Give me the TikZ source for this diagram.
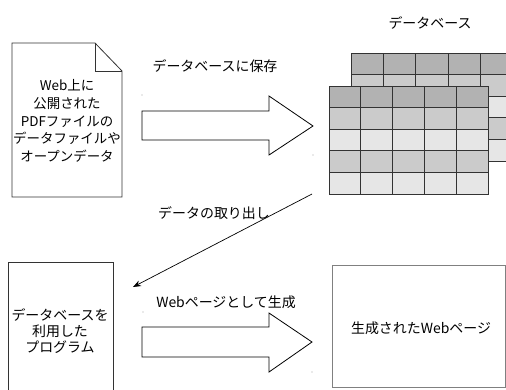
\documentclass[tikz,border=0pt]{standalone}
\usepackage{fontspec}
\newfontfamily\jp{Noto Sans CJK JP}
\usetikzlibrary{arrows.meta}
\definecolor{hdr}{HTML}{B2B2B2}
\definecolor{midg}{HTML}{CBCBCB}
\definecolor{lite}{HTML}{E6E6E6}
\definecolor{edge}{HTML}{333333}
\tikzset{
  lbl/.style={font=\jp\fontsize{14}{16}\selectfont, inner sep=0pt, align=center},
  doctext/.style={font=\jp\fontsize{13.5}{17.8}\selectfont, inner sep=0pt, align=center},
  blockarrow/.style={draw=black, line width=0.8bp, fill=white, line join=miter},
  boxline/.style={draw=edge, line width=0.8bp, fill=white},
  cell/.style={draw=edge, line width=0.9bp},
  dot/.style={fill=gray!70, draw=none},
  conn/.style={draw=black, line width=0.7bp, -{Stealth[length=8bp,width=6bp]}}
}
\begin{document}
\begin{tikzpicture}[x=1bp,y=-1bp]
\useasboundingbox (0,0) rectangle (506,389);
\clip (0,0) rectangle (506,389);

% document with folded corner
\draw[boxline] (12,43) -- (95,43) -- (122,71) -- (122,197) -- (12,197) -- cycle;
\draw[draw=edge, line width=0.8bp] (95,43) -- (95,71) -- (122,71);
\node[doctext] (doc) at (67,121) {Web上に\\公開された\\PDFファイルの\\データファイルや\\オープンデータ};

% top block arrow
\draw[blockarrow] (142,111) -- (269,111) -- (269,96) -- (313,126) -- (269,155) -- (269,140) -- (142,140) -- cycle;
\fill[dot] (142,95) circle (0.6);
\fill[dot] (313,155) circle (0.6);
\node[lbl] (save) at (215,66) {データベースに保存};

% database label
\node[lbl] (dblabel) at (430,23) {データベース};

% back table
\foreach \r/\c in {0/hdr,1/midg,2/lite,3/midg,4/lite}{
  \foreach \k in {0,...,4}{
    \filldraw[cell, fill=\c] (351+32.4*\k, 53+21.6*\r) rectangle ++(32.4,21.6);
  }
}
% front table
\foreach \r/\c in {0/hdr,1/midg,2/lite,3/midg,4/lite}{
  \foreach \k in {0,...,4}{
    \filldraw[cell, fill=\c] (329+31.9*\k, 86+21.6*\r) rectangle ++(31.9,21.6);
  }
}
\coordinate (db) at (329,194);

% diagonal connector
\coordinate (dstart) at (312,194);
\coordinate (dend) at (133,287);
\draw[conn] (dstart) -- (dend);
\node[lbl] (extract) at (214,213) {データの取り出し};

% program box
\draw[boxline] (8,262) rectangle (113,400);
\node[lbl, font=\jp\fontsize{14}{16.2}\selectfont] (prog) at (60,331) {データベースを\\利用した\\プログラム};

% bottom block arrow
\draw[blockarrow] (142,327) -- (269,327) -- (269,313) -- (312,342) -- (269,372) -- (269,357) -- (142,357) -- cycle;
\fill[dot] (143,312) circle (0.6);
\fill[dot] (312,372) circle (0.6);
\node[lbl] (gen) at (226,302) {Webページとして生成};

% web page box
\draw[draw=gray, line width=0.9bp, fill=white] (332,265) rectangle (505,387);
\node[lbl] (web) at (421,328) {生成されたWebページ};
\end{tikzpicture}
\end{document}
